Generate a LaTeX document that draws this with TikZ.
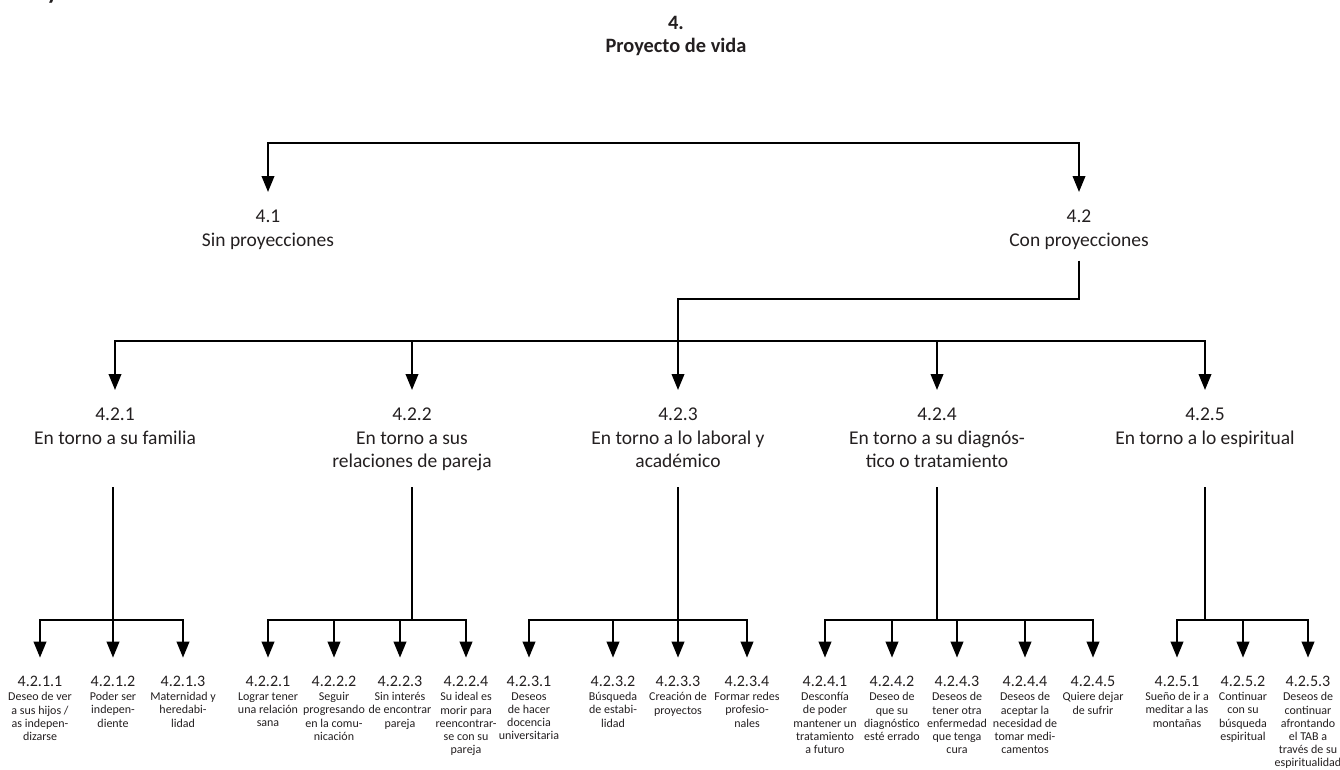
\documentclass[tikz,border=0pt]{standalone}
\usepackage{fontspec}
\setmainfont{Carlito}
\usetikzlibrary{arrows.meta, positioning}

\definecolor{ink}{HTML}{231F20}

\begin{document}
\begin{tikzpicture}[x=1pt, y=-1pt, line width=2.2pt, draw=black,
  every node/.style={text=ink},
  head/.style={font=\bfseries\fontsize{20.4}{23}\selectfont, align=center, inner sep=2pt},
  lvl/.style={font=\fontsize{19.5}{23.5}\selectfont, align=center, inner sep=2pt},
  num/.style={font=\fontsize{16}{18}\selectfont, inner sep=2pt},
  desc/.style={font=\fontsize{12}{13.2}\selectfont, align=center, inner sep=1pt},
  arr/.style={-{Triangle[length=16pt,width=12.5pt]}, shorten >=15pt}]
\useasboundingbox (0,0) rectangle (1340,769);

% heading, cut by the page edge
\node[anchor=base west, font=\bfseries\fontsize{24}{26}\selectfont, inner sep=0pt] (top) at (12,-0.6) {Proyecto de vida};

\node[head, anchor=north] (n4) at (676,13) {4.\\Proyecto de vida};

% level 1
\node[lvl, anchor=north] (n41) at (268,207) {4.1\\Sin proyecciones};
\node[lvl, anchor=north] (n42) at (1079,207) {4.2\\Con proyecciones};
\coordinate (b1) at (676,143);
\draw[arr] (b1) -| (n41);
\draw[arr] (b1) -| (n42);

% level 2
\node[lvl, anchor=north] (n421) at (115,405) {4.2.1\\En torno a su familia};
\node[lvl, anchor=north] (n422) at (412,405) {4.2.2\\En torno a sus\\relaciones de pareja};
\node[lvl, anchor=north] (n423) at (678,405) {4.2.3\\En torno a lo laboral y\\académico};
\node[lvl, anchor=north] (n424) at (937,405) {4.2.4\\En torno a su diagnós-\\tico o tratamiento};
\node[lvl, anchor=north] (n425) at (1205,405) {4.2.5\\En torno a lo espiritual};
\coordinate (b2) at (678,299);
\coordinate (b3) at (678,341);
\draw[arr, shorten <=8pt] (n42.south) |- (b2) -- (n423);
\foreach \k in {1,2,4,5}
  \draw[arr] (b3) -| (n42\k);

% level 3
\node[num] (n4211) at (40,681) {4.2.1.1};
\node[num] (n4212) at (113,681) {4.2.1.2};
\node[num] (n4213) at (183,681) {4.2.1.3};
\node[desc, below=1pt of n4211] (d4211) {Deseo de ver\\a sus hijos /\\as indepen-\\dizarse};
\node[desc, below=1pt of n4212] (d4212) {Poder ser\\indepen-\\diente};
\node[desc, below=1pt of n4213] (d4213) {Maternidad y\\heredabi-\\lidad};

\node[num] (n4221) at (268,681) {4.2.2.1};
\node[num] (n4222) at (334,681) {4.2.2.2};
\node[num] (n4223) at (400,681) {4.2.2.3};
\node[num] (n4224) at (466,681) {4.2.2.4};
\node[desc, below=1pt of n4221] (d4221) {Lograr tener\\una relación\\sana};
\node[desc, below=1pt of n4222] (d4222) {Seguir\\progresando\\en la comu-\\nicación};
\node[desc, below=1pt of n4223] (d4223) {Sin interés\\de encontrar\\pareja};
\node[desc, below=1pt of n4224] (d4224) {Su ideal es\\morir para\\reencontrar-\\se con su\\pareja};

\node[num] (n4231) at (529,681) {4.2.3.1};
\node[num] (n4232) at (613,681) {4.2.3.2};
\node[num] (n4233) at (678,681) {4.2.3.3};
\node[num] (n4234) at (747,681) {4.2.3.4};
\node[desc, below=1pt of n4231] (d4231) {Deseos\\de hacer\\docencia\\universitaria};
\node[desc, below=1pt of n4232] (d4232) {Búsqueda\\de estabi-\\lidad};
\node[desc, below=1pt of n4233] (d4233) {Creación de\\proyectos};
\node[desc, below=1pt of n4234] (d4234) {Formar redes\\profesio-\\nales};

\node[num] (n4241) at (825,681) {4.2.4.1};
\node[num] (n4242) at (892,681) {4.2.4.2};
\node[num] (n4243) at (957,681) {4.2.4.3};
\node[num] (n4244) at (1025,681) {4.2.4.4};
\node[num] (n4245) at (1093,681) {4.2.4.5};
\node[desc, below=1pt of n4241] (d4241) {Desconfía\\de poder\\mantener un\\tratamiento\\a futuro};
\node[desc, below=1pt of n4242] (d4242) {Deseo de\\que su\\diagnóstico\\esté errado};
\node[desc, below=1pt of n4243] (d4243) {Deseos de\\tener otra\\enfermedad\\que tenga\\cura};
\node[desc, below=1pt of n4244] (d4244) {Deseos de\\aceptar la\\necesidad de\\tomar medi-\\camentos};
\node[desc, below=1pt of n4245] (d4245) {Quiere dejar\\de sufrir};

\node[num] (n4251) at (1177,681) {4.2.5.1};
\node[num] (n4252) at (1243,681) {4.2.5.2};
\node[num] (n4253) at (1308,681) {4.2.5.3};
\node[desc, below=1pt of n4251] (d4251) {Sueño de ir a\\meditar a las\\montañas};
\node[desc, below=1pt of n4252] (d4252) {Continuar\\con su\\búsqueda\\espiritual};
\node[desc, below=1pt of n4253] (d4253) {Deseos de\\continuar\\afrontando\\el TAB a\\través de su\\espiritualidad};

% stems and branches
\coordinate (s421) at (113,487);  \coordinate (j421) at (113,620);
\coordinate (s422) at (412,487);  \coordinate (j422) at (412,620);
\coordinate (s423) at (678,487);  \coordinate (j423) at (678,620);
\coordinate (s424) at (937,487);  \coordinate (j424) at (937,620);
\coordinate (s425) at (1205,487); \coordinate (j425) at (1205,620);
\draw (s421) -- (j421);
\draw (s422) -- (j422);
\draw (s423) -- (j423);
\draw (s424) -- (j424);
\draw (s425) -- (j425);
\foreach \k in {1,2,3}
  \draw[arr] (j421) -| (n421\k);
\foreach \k in {1,2,3,4}
  \draw[arr] (j422) -| (n422\k);
\foreach \k in {1,2,3,4}
  \draw[arr] (j423) -| (n423\k);
\foreach \k in {1,2,3,4,5}
  \draw[arr] (j424) -| (n424\k);
\foreach \k in {1,2,3}
  \draw[arr] (j425) -| (n425\k);

\end{tikzpicture}
\end{document}
